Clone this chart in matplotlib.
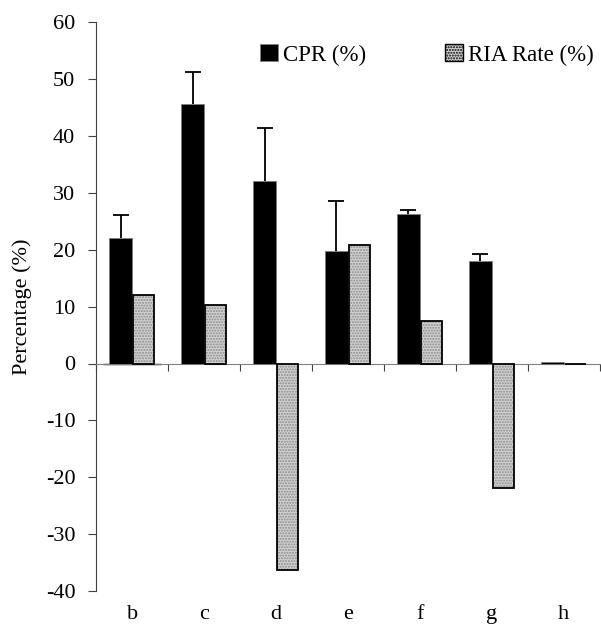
import numpy as np
import matplotlib
matplotlib.use("Agg")
import matplotlib.pyplot as plt

categories = ["b", "c", "d", "e", "f", "g", "h"]
cpr = [22.1, 45.6, 32.0, 19.8, 26.3, 18.0, 0.3]
cpr_err = [3.9, 5.6, 9.4, 8.7, 0.7, 1.3, np.nan]
ria = [12.0, 10.3, -36.2, 20.8, 7.5, -21.8, 0.0]

plt.rcParams['font.family'] = ['Liberation Serif', 'DejaVu Serif']
plt.rcParams['axes.unicode_minus'] = False

fig = plt.figure(figsize=(6.01, 6.25), dpi=100)
ax = fig.add_axes([0.16, 0.054, 0.838, 0.911])

x = np.arange(len(categories))
w = 0.32

ax.bar(x - w / 2, cpr, width=w, color='black', edgecolor='#808080', linewidth=0.6,
       label='CPR (%)', zorder=3)
eb = ax.errorbar(x - w / 2, cpr, yerr=[np.zeros(len(cpr)), cpr_err], fmt='none',
                 ecolor='black', elinewidth=1.3, capsize=6, capthick=1.3, zorder=2)
eb[1][0].set_visible(False)  # only the upper cap
# dotted grey fill, then a black outline on top
ax.bar(x + w / 2, ria, width=w * 0.92, color='#d2d2d2', edgecolor='#8a8a8a',
       hatch='......', linewidth=0, zorder=3)
ax.bar(x + w / 2, ria, width=w * 0.92, fill=False, edgecolor='black',
       linewidth=1.3, zorder=4)
ax.bar([0], [0], color='#d2d2d2', edgecolor='black', hatch='......',
       linewidth=1, label='RIA Rate (%)')

ax.set_xlim(-0.5, len(categories) - 0.5)
ax.set_ylim(-40, 60)
ax.set_yticks(np.arange(-40, 61, 10))
ax.tick_params(axis='y', labelsize=16, length=6, pad=9, color='#404040')

for s in ['top', 'right']:
    ax.spines[s].set_visible(False)
ax.spines['left'].set_color('#404040')
ax.spines['bottom'].set_position(('data', 0))
ax.spines['bottom'].set_color('#808080')
ax.set_xticks(np.arange(-0.5, len(categories), 1.0))
ax.tick_params(axis='x', labelbottom=False, length=5, color='#404040')

sec = ax.secondary_xaxis('bottom')
sec.set_xticks(x)
sec.set_xticklabels(categories, fontsize=16)
sec.tick_params(length=0, pad=10)
sec.spines['bottom'].set_visible(False)

ax.set_ylabel('Percentage (%)', fontsize=16, labelpad=10)

ax.legend(loc='center left', bbox_to_anchor=(0.325, 0.942), ncol=2, frameon=False,
          fontsize=16.5, handlelength=0.78, handleheight=0.78, columnspacing=3.45,
          handletextpad=0.22, borderpad=0, borderaxespad=0)

fig.savefig('out.png', dpi=100)
